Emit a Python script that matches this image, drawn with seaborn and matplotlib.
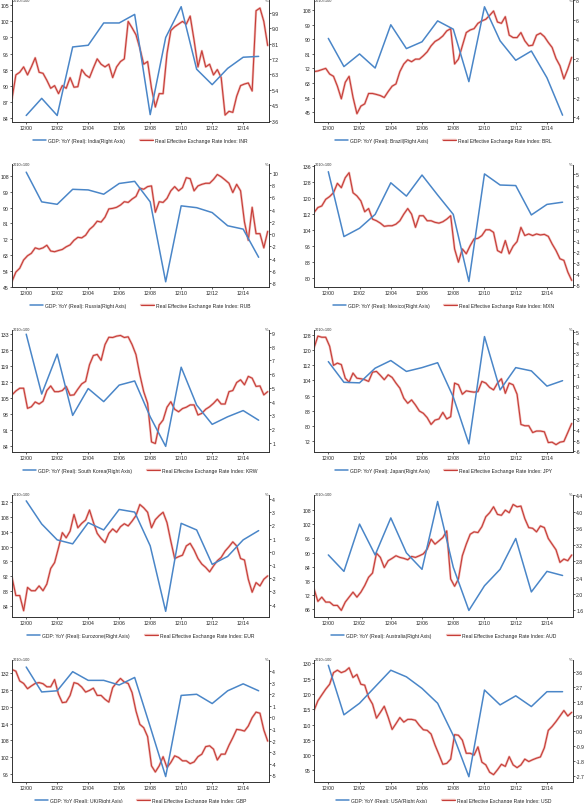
import pandas as pd
import matplotlib.pyplot as plt
import matplotlib.dates as mdates
import matplotlib.ticker as mticker
import matplotlib.patheffects as pe
from matplotlib.lines import Line2D
import seaborn as sns

sns.set_theme(style='ticks')
plt.rcParams['font.family'] = ['Liberation Sans', 'DejaVu Sans']

# annual GDP points (Dec of each year) and quarterly REER readings
gdp_dates = pd.date_range('2000-12-01', periods=16, freq='12MS')
reer_dates = pd.date_range('2000-01-01', '2016-07-01', freq='QS')

india_gdp = [3.9, 4.9, 3.9, 7.9, 8.0, 9.3, 9.3, 9.8, 3.95, 8.45, 10.25, 6.6, 5.7, 6.65, 7.3, 7.35]
india_reer = [87.5, 92.0, 92.5, 93.5, 92.0, 93.5, 95.2, 92.5, 92.3, 91.0,
              89.5, 90.0, 88.5, 90.0, 89.5, 91.5, 89.7, 89.8, 93.0, 92.0,
              91.5, 93.3, 95.0, 94.0, 93.5, 94.0, 91.5, 93.5, 94.5, 95.0,
              102.0, 100.8, 99.5, 97.0, 94.0, 94.5, 89.5, 86.0, 88.5, 88.5,
              96.0, 100.3, 101.0, 101.5, 102.0, 101.5, 103.0, 98.5, 93.5, 96.5,
              93.5, 94.0, 92.0, 93.0, 91.5, 84.5, 85.2, 85.0, 88.0, 90.0,
              90.3, 90.5, 89.0, 104.0, 104.5, 102.0, 97.5]

brazil_gdp = [4.1, 1.2, 2.5, 1.05, 5.5, 3.05, 3.75, 5.9, 5.05, -0.35, 7.35, 3.85, 1.85, 2.8, 0.05, -3.8]
brazil_reer = [70.0, 70.4, 71.2, 72.0, 68.5, 67.1, 61.0, 53.2, 63.4, 67.1,
               54.2, 44.0, 48.7, 50.1, 56.5, 56.5, 55.9, 55.2, 54.0, 57.7,
               61.0, 62.4, 70.0, 74.7, 77.3, 76.1, 77.7, 77.7, 79.8, 82.2,
               85.9, 88.6, 90.0, 92.0, 95.1, 96.5, 74.7, 77.7, 85.9, 94.1,
               95.7, 96.5, 99.8, 101.3, 102.3, 104.7, 107.4, 100.6, 99.8, 103.9,
               92.5, 91.0, 91.0, 94.1, 89.0, 85.9, 86.3, 92.5, 93.7, 91.6,
               88.0, 84.9, 78.1, 73.6, 65.5, 71.6, 78.8]

russia_gdp = [10.1, 5.25, 4.85, 7.3, 7.2, 6.5, 8.25, 8.6, 5.25, -7.8, 4.6, 4.3, 3.5, 1.35, 0.8, -3.8]
russia_reer = [48.0, 53.3, 55.5, 60.2, 62.6, 64.0, 67.1, 66.4, 67.1, 68.6,
               65.3, 64.9, 65.6, 66.2, 67.7, 68.8, 71.4, 73.1, 72.8, 74.3,
               77.6, 79.5, 82.3, 81.8, 84.6, 89.3, 89.6, 90.2, 91.5, 93.4,
               93.0, 94.9, 96.4, 101.1, 100.5, 102.0, 102.4, 87.4, 93.4, 93.0,
               95.3, 99.6, 102.0, 99.6, 101.4, 107.1, 106.5, 99.6, 102.4, 103.3,
               103.9, 103.9, 106.1, 108.9, 107.6, 105.8, 103.9, 98.6, 103.3, 99.6,
               81.8, 71.4, 90.2, 75.2, 75.2, 67.1, 76.5]

mexico_gdp = [5.25, -0.6, 0.15, 1.4, 4.25, 3.05, 4.95, 3.15, 1.4, -4.65, 5.05, 4.05, 4.0, 1.35, 2.3, 2.5]
mexico_reer = [112.5, 115.0, 115.8, 119.1, 120.5, 122.4, 127.1, 124.9, 129.9, 132.4,
               122.4, 120.8, 118.3, 112.9, 114.5, 109.2, 108.4, 107.2, 105.6, 105.9,
               105.9, 106.7, 108.4, 111.7, 114.5, 111.7, 105.1, 110.9, 110.9, 108.4,
               108.4, 107.6, 107.2, 107.9, 109.2, 110.9, 94.3, 87.7, 94.3, 91.9,
               96.0, 99.3, 99.6, 101.0, 103.9, 103.9, 102.6, 93.5, 92.4, 98.5,
               91.9, 95.7, 98.0, 105.1, 101.0, 101.8, 101.0, 101.8, 101.3, 101.6,
               100.6, 96.8, 93.5, 89.4, 88.6, 82.8, 78.6]

korea_gdp = [8.9, 4.55, 7.45, 3.0, 4.95, 4.0, 5.2, 5.5, 2.9, 0.75, 6.5, 3.75, 2.35, 2.9, 3.35, 2.65]
korea_reer = [106.3, 108.0, 109.2, 109.2, 100.4, 101.1, 103.2, 102.3, 103.5, 108.2,
              110.2, 107.7, 107.7, 108.2, 110.0, 106.1, 106.3, 108.8, 111.1, 112.2,
              119.5, 123.5, 124.0, 121.4, 128.3, 131.5, 131.4, 132.0, 132.3, 131.4,
              131.7, 128.3, 123.9, 115.1, 107.7, 102.6, 85.7, 85.0, 93.1, 95.3,
              100.9, 103.3, 100.0, 98.9, 100.3, 100.9, 101.9, 101.9, 97.5, 98.2,
              100.0, 101.1, 102.6, 104.4, 102.3, 102.3, 107.7, 108.2, 111.7, 112.9,
              110.7, 114.4, 113.6, 110.0, 110.2, 106.3, 107.7]

japan_gdp = [2.25, 0.35, 0.3, 1.65, 2.35, 1.35, 1.7, 2.15, -1.0, -5.3, 4.55, -0.35, 1.7, 1.4, 0.0, 0.5]
japan_reer = [121.2, 127.5, 126.9, 126.9, 122.1, 112.0, 113.2, 112.4, 105.2, 103.1,
              107.9, 105.2, 104.9, 104.4, 103.5, 108.4, 108.8, 106.7, 104.4, 107.0,
              105.6, 102.6, 99.9, 94.6, 91.9, 93.7, 91.0, 87.8, 86.6, 84.3,
              80.7, 83.0, 83.6, 87.1, 83.6, 84.8, 102.6, 101.7, 96.7, 98.5,
              98.1, 97.8, 98.1, 103.5, 102.6, 100.3, 99.0, 102.6, 104.9, 97.2,
              102.6, 101.7, 96.7, 80.7, 80.0, 80.0, 76.4, 77.2, 77.2, 76.8,
              71.1, 71.3, 70.0, 71.3, 71.7, 76.4, 81.2]

euro_gdp = [3.85, 2.1, 0.9, 0.6, 2.2, 1.65, 3.2, 3.0, 0.45, -4.5, 2.15, 1.65, -0.95, -0.35, 0.9, 1.6]
euro_reer = [91.7, 86.8, 86.8, 82.7, 89.0, 88.1, 88.1, 89.4, 88.1, 89.9,
             94.1, 95.7, 99.7, 103.8, 102.4, 104.2, 108.7, 105.1, 106.3, 107.2,
             109.9, 106.6, 103.6, 102.2, 101.1, 103.6, 104.8, 103.9, 105.4, 106.2,
             105.6, 106.9, 108.4, 111.4, 110.5, 109.3, 105.1, 107.3, 108.4, 109.3,
             106.5, 101.5, 96.8, 97.3, 97.7, 100.2, 100.9, 99.1, 96.8, 95.3,
             94.4, 93.2, 94.8, 96.2, 97.1, 98.8, 100.0, 101.3, 100.2, 96.8,
             96.4, 91.2, 87.7, 90.3, 89.4, 91.2, 92.1]

australia_gdp = [2.95, 2.55, 3.7, 2.95, 3.85, 3.0, 2.6, 4.25, 2.65, 1.6, 2.2, 2.6, 3.35, 2.05, 2.55, 2.45]
australia_reer = [74.7, 69.4, 71.2, 69.1, 69.1, 67.7, 67.7, 65.6, 69.1, 71.2,
                  73.3, 71.2, 73.3, 76.1, 79.6, 81.4, 89.8, 88.0, 83.7, 86.6,
                  87.6, 88.7, 88.0, 87.6, 87.0, 88.4, 88.0, 88.7, 89.5, 91.5,
                  95.7, 93.6, 95.0, 96.4, 99.2, 78.9, 75.8, 78.9, 88.7, 93.6,
                  97.8, 98.8, 98.5, 101.0, 105.2, 106.9, 109.4, 106.2, 105.8, 108.0,
                  106.9, 110.4, 109.4, 109.7, 104.4, 100.6, 100.3, 98.8, 101.3, 100.6,
                  96.0, 93.6, 91.2, 85.9, 87.3, 86.6, 89.0]

uk_gdp = [4.35, 2.2, 2.3, 3.95, 3.2, 3.2, 2.8, 3.45, -0.8, -5.1, 1.9, 2.0, 1.2, 2.3, 2.9, 2.3]
uk_reer = [133.4, 132.8, 129.3, 128.4, 126.5, 127.5, 128.4, 128.7, 128.3, 127.2,
           127.2, 129.8, 124.5, 121.5, 121.7, 124.1, 128.7, 128.3, 127.1, 125.3,
           125.9, 126.7, 124.1, 124.1, 122.7, 121.7, 126.9, 128.7, 130.2, 128.9,
           128.4, 125.1, 118.5, 113.7, 112.5, 109.3, 98.8, 96.6, 98.8, 102.1,
           98.2, 100.0, 102.4, 101.8, 100.6, 100.6, 99.6, 100.2, 102.1, 103.0,
           105.7, 106.0, 104.8, 100.9, 103.0, 103.0, 106.2, 108.9, 111.9, 111.7,
           111.3, 113.1, 116.1, 118.1, 117.7, 111.7, 107.7]

usa_gdp = [4.0, 1.0, 1.7, 2.7, 3.7, 3.3, 2.6, 1.7, -0.25, -2.75, 2.5, 1.6, 2.15, 1.5, 2.4, 2.4]
usa_reer = [114.6, 117.8, 119.7, 121.6, 123.2, 127.0, 127.8, 127.0, 127.5, 128.6,
            125.4, 126.4, 123.2, 122.9, 118.9, 116.7, 112.1, 114.0, 116.0, 112.4,
            108.4, 110.3, 112.3, 110.8, 111.7, 111.7, 111.4, 109.7, 108.3, 108.1,
            106.9, 103.3, 100.2, 97.0, 97.3, 98.7, 106.7, 106.5, 104.9, 100.6,
            100.6, 100.0, 102.7, 97.7, 96.8, 94.4, 93.6, 95.2, 97.0, 96.3,
            99.5, 96.8, 95.9, 96.8, 98.7, 97.9, 98.5, 99.0, 99.4, 102.4,
            108.1, 109.4, 111.0, 112.8, 114.6, 112.8, 114.0]

# (country, currency, gdp, reer, left ticks, left lim, right ticks, right lim, right format)
panels = [
    ('India', 'INR', india_gdp, india_reer, range(84, 106, 3), (83.2, 106.1),
     [3.6 + 0.9 * i for i in range(8)], (3.52, 10.67), '%.1f'),
    ('Brazil', 'BRL', brazil_gdp, brazil_reer, range(45, 109, 9), (38.9, 114.5),
     range(-4, 9, 2), (-4.5, 8.1), '%d'),
    ('Russia', 'RUB', russia_gdp, russia_reer, range(45, 109, 9), (44.8, 114.6),
     range(-8, 11, 2), (-8.65, 11.35), '%d'),
    ('Mexico', 'MXN', mexico_gdp, mexico_reer, range(80, 137, 8), (75.3, 136.5),
     range(-5, 6), (-5.15, 5.9), '%d'),
    ('South Korea', 'KRW', korea_gdp, korea_reer, range(84, 134, 7), (81.3, 134.9),
     range(1, 10), (0.34, 9.24), '%d'),
    ('Japan', 'JPY', japan_gdp, japan_reer, range(72, 129, 8), (66.1, 131.0),
     range(-6, 6), (-6.05, 5.2), '%d'),
    ('Eurozone', 'EUR', euro_gdp, euro_reer, range(84, 113, 4), (81.0, 114.1),
     range(-4, 5), (-4.93, 4.33), '%d'),
    ('Australia', 'AUD', australia_gdp, australia_reer, range(66, 109, 6), (62.8, 114.6),
     [1.6 + 0.4 * i for i in range(8)], (1.44, 4.42), '%.1f'),
    ('UK', 'GBP', uk_gdp, uk_reer, range(96, 133, 6), (93.0, 137.0),
     range(-5, 5), (-5.57, 5.0), '%d'),
    ('USA', 'USD', usa_gdp, usa_reer, range(95, 131, 5), (91.2, 131.3),
     [-2.7 + 0.9 * i for i in range(8)], (-3.07, 4.35), '%.1f'),
]

blue = '#4a86c8'
red = '#c63d38'
halo = [pe.Stroke(linewidth=1.7, foreground='#efb9b5'), pe.Normal()]
W, H = 585, 804

fig = plt.figure(figsize=(W / 100, H / 100), dpi=100)

for i, (country, cur, gdp, reer, lt, llim, rt, rlim, rfmt) in enumerate(panels):
    row, col = divmod(i, 2)
    left_px = 12 if col == 0 else 314
    width_px = 257 if col == 0 else 259
    top_px = 0.5 + 165 * row
    h_px = 122.5
    ax = fig.add_axes([left_px / W, 1 - (top_px + h_px) / H, width_px / W, h_px / H])

    sns.lineplot(x=reer_dates, y=reer, ax=ax, color=red, lw=0.8, path_effects=halo)
    ax2 = ax.twinx()
    sns.lineplot(x=gdp_dates, y=gdp, ax=ax2, color=blue, lw=1.1)

    ax.set_xlim(pd.Timestamp('2000-01-01'), pd.Timestamp('2016-08-01'))
    ax.xaxis.set_major_locator(mdates.YearLocator(base=2, month=12, day=1))
    ax.xaxis.set_major_formatter(mdates.DateFormatter('%m/%y'))

    ax.set_ylim(*llim)
    ax.set_yticks(list(lt))
    ax2.set_ylim(*rlim)
    ax2.set_yticks(list(rt))
    ax2.yaxis.set_major_formatter(mticker.FormatStrFormatter(rfmt))

    ax.set_xlabel('')
    ax.set_ylabel('')
    ax2.set_ylabel('')

    for a in (ax, ax2):
        a.spines['top'].set_visible(False)
        for s in a.spines.values():
            s.set_linewidth(0.6)
            s.set_color('#333333')
        a.tick_params(labelsize=3.7, length=1.5, width=0.5, pad=0.8, colors='#222222')

    ax.text(0.003, 1.0, '2010=100', transform=ax.transAxes, ha='left', va='center',
            fontsize=2.8, color='#333333')
    ax.text(0.997, 1.0, '%', transform=ax.transAxes, ha='right', va='center',
            fontsize=3, color='#333333')

    handles = [Line2D([], [], color=blue, lw=1.1),
               Line2D([], [], color=red, lw=0.8, path_effects=halo)]
    labels = [f'GDP: YoY (Real): {country}(Right Axis)',
              f'Real Effective Exchange Rate Index: {cur}']
    ax.legend(handles, labels, loc='center', bbox_to_anchor=(0.5, -0.147), ncol=2,
              frameon=False, fontsize=3.6, handlelength=2.6, handletextpad=0.4,
              columnspacing=3.0, borderaxespad=0)

fig.savefig('out.png', dpi=100)
